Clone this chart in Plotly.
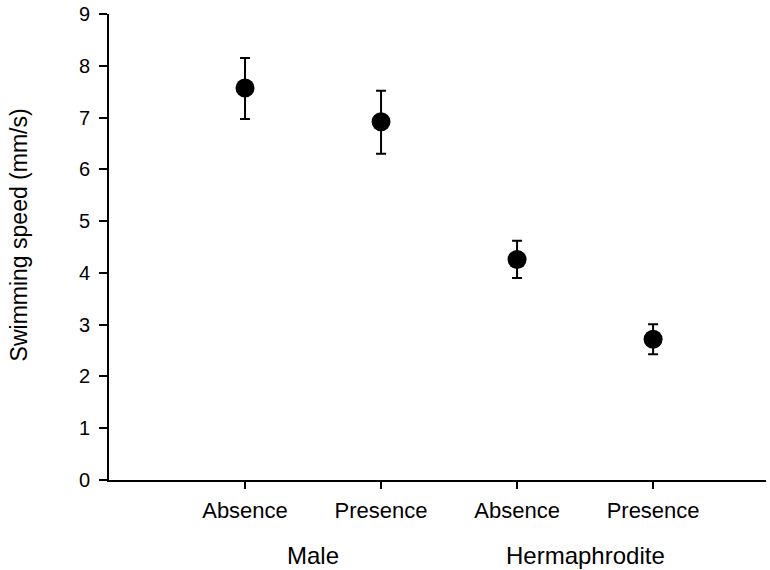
import plotly.graph_objects as go

categories = ["Absence", "Presence", "Absence ", "Presence "]
tick_labels = ["Absence", "Presence", "Absence", "Presence"]
groups = ["Male", "Hermaphrodite"]
y_title = "Swimming speed (mm/s)"
speed = [7.57, 6.92, 4.26, 2.72]
err_plus = [0.58, 0.60, 0.36, 0.29]
err_minus = [0.60, 0.62, 0.36, 0.29]

xpos = list(range(len(categories)))

fig = go.Figure()
fig.add_trace(go.Scatter(
    x=xpos, y=speed, mode="markers",
    marker=dict(color="black", size=19, symbol="circle"),
    error_y=dict(type="data", symmetric=False, array=err_plus, arrayminus=err_minus,
                 color="black", thickness=2, width=5),
    showlegend=False,
))

for i, g in enumerate(groups):
    fig.add_annotation(x=2 * i + 0.5, y=-0.161, xref="x", yref="paper",
                       text=g, showarrow=False, yanchor="middle",
                       font=dict(size=24, color="black"))

fig.add_annotation(x=-0.137, y=0.527, xref="paper", yref="paper",
                   text=y_title, showarrow=False, textangle=-90,
                   xanchor="center", yanchor="middle",
                   font=dict(size=23, color="black"))

fig.update_layout(
    width=770, height=570,
    margin=dict(l=109, r=4, t=14, b=90),
    paper_bgcolor="white", plot_bgcolor="white",
    font=dict(family="Liberation Sans, Arial, sans-serif", color="black"),
)
fig.update_xaxes(
    range=[-1, 3.83], tickmode="array", tickvals=xpos, ticktext=tick_labels,
    showline=True, linecolor="black", linewidth=2, ticks="outside",
    ticklen=7, tickwidth=2, tickcolor="black", showgrid=False, zeroline=False,
    tickfont=dict(size=22), ticklabelstandoff=3, automargin=False,
)
fig.update_yaxes(
    range=[0, 9], tickmode="linear", tick0=0, dtick=1,
    showline=True, linecolor="black", linewidth=2, ticks="outside",
    ticklen=8, tickwidth=2, tickcolor="black", showgrid=False, zeroline=False,
    tickfont=dict(size=20), ticklabelstandoff=5, automargin=False,
)

fig.write_html("out.html", config={"displayModeBar": False},
               post_script="document.body.style.margin='0';document.body.style.overflow='hidden';")
